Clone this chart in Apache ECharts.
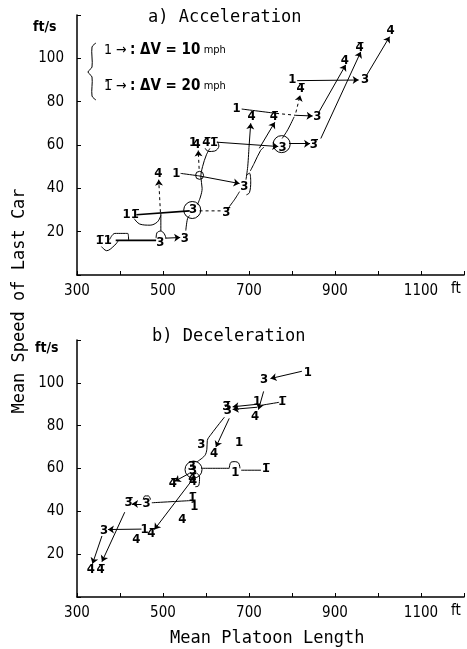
<!DOCTYPE html>
<html>
<head>
<meta charset="utf-8">
<script src="https://cdn.jsdelivr.net/npm/echarts@6/dist/echarts.min.js"></script>
<style>
  html, body { margin: 0; padding: 0; background: #fff; }
  #chart { width: 467px; height: 649px; }
</style>
</head>
<body>
<div id="chart"></div>
<script>
const B = '\u0305' // overbar: 1̅ = ΔV 20 mph

// axes
const xTickLabels = [300, 500, 700, 900, 1100]
const yTickLabels = [20, 40, 60, 80, 100]

// a) Acceleration — [mean platoon length ft, mean speed ft/s, label]
const accLabels = [
  [362, 16, '1' + B + '1'], [494, 15, '3'], [551, 17, '3'],
  [425, 28, '11' + B], [570, 30, '3'], [647, 29, '3' + B],
  [489, 47, '4'], [531, 47, '1'], [689, 41, '3'],
  [570, 61, '1'], [578, 60, '4'], [601, 61, '4' + B], [618, 61, '1' + B],
  [778, 59, '3'], [851, 60, '3' + B],
  [671, 77, '1'], [706, 73, '4'], [758, 73, '4' + B], [859, 73, '3'],
  [801, 90, '1'], [820, 86, '4' + B], [970, 90, '3'],
  [923, 99, '4'], [957, 105, '4' + B], [1029, 113, '4']
]
const accPaths = [
  [[376, 16.4], [388, 19.2], [418, 19.2], [420, 16.1]],
  [[357, 13.1], [369, 11.2], [388, 13.8], [396, 15.8]],
  [[484, 17], [486, 19.5], [495, 20.3], [503, 19], [507, 17]],
  [[495, 20.3], [495, 28.5]],
  [[553, 20.5], [557, 26], [562, 27.5]],
  [[433, 26], [446, 23.5], [470, 23], [487, 24.5], [495, 27.5]],
  [[654, 31.5], [667, 35], [678, 38.5]],
  [[580, 32.5], [587, 36], [591, 40], [588, 45.3], [592, 50], [601, 55.5], [609, 58.4]],
  [[541, 46.9], [582, 45.8]],
  [[694, 37], [701, 38], [704, 43], [701, 47], [694, 46]],
  [[693, 44], [697, 50], [700, 59]],
  [[703, 48], [712, 51.5], [727, 57.5], [735, 59]],
  [[598, 58.5], [606, 57], [620, 57.2], [630, 59.5], [627, 61.5]],
  [[777, 63], [790, 67], [805, 73]],
  [[683, 76.6], [763, 74.6]]
]
const accThick = [
  [[390, 16], [484, 16]],
  [[438, 27.8], [562, 29.6]]
]
const accArrows = [
  [[505, 17], [540, 17.3]],
  [[582, 45.8], [678, 42.2]],
  [[700, 59], [704, 70]],
  [[724, 58.5], [760, 70.5]],
  [[625, 61.3], [768, 59.3]],
  [[793, 60.6], [842, 60.6]],
  [[809, 73.7], [848, 73.4]],
  [[812, 89.7], [955, 90]],
  [[862, 75], [925, 97]],
  [[867, 63], [960, 103]],
  [[973, 92], [1027, 110]]
]
const accDashed = [
  [[494, 29], [490, 44]],
  [[584, 49], [582, 57.5]],
  [[809, 75], [819, 83]]
]
const accDashedPaths = [
  [[585, 29.6], [637, 29.6]],
  [[763, 74.6], [809, 73.7]]
]
const accLoops = [[568, 30], [776, 60.4]]
const accNodes = [[585, 46]]

// b) Deceleration
const decLabels = [
  [837, 105, '1'], [735, 101.6, '3'], [777, 91, '1' + B], [719, 91, '1'],
  [714, 84, '4'], [647, 89, '3' + B], [651, 87, '3'],
  [589, 71, '3'], [619, 67, '4'], [677, 72, '1'],
  [567, 61, '3' + B], [570, 59, '3'], [568, 55.5, '4' + B], [570, 54, '4'],
  [668, 58, '1'], [739, 60, '1' + B], [523, 53, '4' + B],
  [420, 44, '3' + B], [462, 43.5, '3'], [568, 46.5, '1' + B], [573, 42, '1'],
  [545, 36, '4'], [363, 31, '3'], [457, 31.5, '1'], [473, 29.5, '4' + B],
  [438, 27, '4'], [332, 13, '4'], [355, 13, '4' + B]
]
const decPaths = [
  [[770, 90.9], [728, 89.5]],
  [[643, 84], [612, 76], [603, 73], [602, 69], [597, 66], [578, 63]],
  [[589, 60.1], [654, 60.1]],
  [[654, 60.1], [658, 62.9], [668, 63.2], [676, 62.5], [679, 60.1]],
  [[682, 59.2], [728, 59.2]],
  [[474, 44], [563, 45]],
  [[454, 45.5], [458, 47.2], [466, 47.2], [471, 45.5]],
  [[578, 58], [585, 56], [583, 52], [575, 51.5]]
]
const decArrows = [
  [[823, 105.4], [750, 102]],
  [[734, 96], [722, 87.5]],
  [[719, 90], [662, 88.8]],
  [[719, 88.6], [662, 87.6]],
  [[654, 83.4], [623, 70]],
  [[562, 57.8], [527, 54]],
  [[573, 56], [480, 31.5]],
  [[450, 43.4], [428, 43.5]],
  [[411, 39.6], [358, 16.5]],
  [[358, 28.5], [336, 15.5]],
  [[450, 31.7], [372, 31.5]]
]
const decLoops = [[571, 59.5]]

const INK = '#000'
const chart = echarts.init(document.getElementById('chart'))

function axes(gi) {
  return {
    x: {
      type: 'value', gridIndex: gi, min: 300, max: 1200, interval: 100,
      axisLine: { lineStyle: { color: INK, width: 1.5 } },
      axisTick: { inside: true, length: 4, lineStyle: { color: INK } },
      splitLine: { show: false },
      axisLabel: {
        color: INK, fontSize: 15, margin: 9, fontFamily: 'DejaVu Sans Condensed',
        formatter: v => xTickLabels.includes(v) ? String(v) : ''
      }
    },
    y: {
      type: 'value', gridIndex: gi, min: 0, max: 120, interval: 20,
      axisLine: { show: true, lineStyle: { color: INK, width: 1.5 } },
      axisTick: { show: true, inside: true, length: 4, lineStyle: { color: INK } },
      splitLine: { show: false },
      axisLabel: {
        color: INK, fontSize: 15, margin: 13, fontFamily: 'DejaVu Sans Condensed',
        formatter: v => yTickLabels.includes(v) ? String(v) : ''
      }
    }
  }
}

function panelSeries(gi, labels, paths, thick, arrows, dashed, dashedPaths, loops, nodes) {
  const s = []
  paths.forEach(p => s.push({
    type: 'line', xAxisIndex: gi, yAxisIndex: gi, data: p, symbol: 'none',
    smooth: 0.35, silent: true, lineStyle: { color: INK, width: 1 }
  }))
  thick.forEach(p => s.push({
    type: 'line', xAxisIndex: gi, yAxisIndex: gi, data: p, symbol: 'none',
    silent: true, lineStyle: { color: INK, width: 1.6 }
  }))
  dashedPaths.forEach(p => s.push({
    type: 'line', xAxisIndex: gi, yAxisIndex: gi, data: p, symbol: 'none',
    silent: true, lineStyle: { color: INK, width: 1, type: [3, 3] }
  }))
  s.push({
    type: 'lines', coordinateSystem: 'cartesian2d', xAxisIndex: gi, yAxisIndex: gi,
    symbol: ['none', 'arrow'], symbolSize: 6, silent: true,
    lineStyle: { color: INK, width: 1, opacity: 1 },
    data: arrows.map(c => ({ coords: c }))
  })
  s.push({
    type: 'lines', coordinateSystem: 'cartesian2d', xAxisIndex: gi, yAxisIndex: gi,
    symbol: ['none', 'arrow'], symbolSize: 6, silent: true,
    lineStyle: { color: INK, width: 1, opacity: 1, type: [3, 3] },
    data: dashed.map(c => ({ coords: c }))
  })
  s.push({
    type: 'scatter', xAxisIndex: gi, yAxisIndex: gi, symbol: 'circle', symbolSize: 17,
    silent: true, itemStyle: { color: 'rgba(0,0,0,0)', borderColor: INK, borderWidth: 1, opacity: 1 },
    data: loops
  })
  s.push({
    type: 'scatter', xAxisIndex: gi, yAxisIndex: gi, symbol: 'circle', symbolSize: 8,
    silent: true, itemStyle: { color: 'rgba(0,0,0,0)', borderColor: INK, borderWidth: 1, opacity: 1 },
    data: nodes
  })
  s.push({
    type: 'scatter', xAxisIndex: gi, yAxisIndex: gi, symbol: 'circle', symbolSize: 0,
    silent: true, z: 5,
    itemStyle: { color: '#fff', opacity: 1 },
    label: {
      show: true, position: [0, 0], align: 'center', verticalAlign: 'middle',
      formatter: p => p.data[2], opacity: 1, textBorderWidth: 0,
      color: INK, fontSize: 13, fontWeight: 'bold', fontFamily: 'DejaVu Sans Condensed'
    },
    data: labels
  })
  return s
}

const a0 = axes(0), a1 = axes(1)
const mono = 'DejaVu Sans Mono'
const legendRich = {
  a: { font: '14px DejaVu Sans Condensed', fill: INK },
  b: { font: 'bold 15px DejaVu Sans Condensed', fill: INK },
  c: { font: '11px DejaVu Sans Condensed', fill: INK }
}

chart.setOption({
  backgroundColor: '#fff',
  animation: false,
  grid: [
    { left: 77, top: 15, width: 389, height: 260 },
    { left: 77, top: 340, width: 389, height: 257 }
  ],
  xAxis: [a0.x, a1.x],
  yAxis: [a0.y, a1.y],
  series: [
    ...panelSeries(0, accLabels, accPaths, accThick, accArrows, accDashed, accDashedPaths, accLoops, accNodes),
    ...panelSeries(1, decLabels, decPaths, [], decArrows, [], [], decLoops, [])
  ],
  graphic: [
    { type: 'text', left: 148, top: 9, style: { text: 'a) Acceleration', font: '17px ' + mono, fill: INK } },
    { type: 'text', left: 152, top: 328, style: { text: 'b) Deceleration', font: '17px ' + mono, fill: INK } },
    { type: 'text', left: 33, top: 20, style: { text: 'ft/s', font: 'bold 14px DejaVu Sans Condensed', fill: INK } },
    { type: 'text', left: 35, top: 341, style: { text: 'ft/s', font: 'bold 14px DejaVu Sans Condensed', fill: INK } },
    { type: 'text', left: 451, top: 282, style: { text: 'ft', font: '15px DejaVu Sans Condensed', fill: INK } },
    { type: 'text', left: 451, top: 604, style: { text: 'ft', font: '15px DejaVu Sans Condensed', fill: INK } },
    { type: 'text', left: 170, top: 630, style: { text: 'Mean Platoon Length', font: '17px ' + mono, fill: INK } },
    {
      type: 'text', x: 20, y: 301, rotation: Math.PI / 2,
      style: { text: 'Mean Speed of Last Car', font: '17px ' + mono, fill: INK, align: 'center', verticalAlign: 'middle' }
    },
    {
      type: 'polyline', silent: true,
      shape: { points: [[96, 43], [92, 47], [92, 67], [88, 72], [92, 77], [92, 96], [96, 100]], smooth: 0.3 },
      style: { stroke: INK, lineWidth: 1, fill: null }
    },
    {
      type: 'text', left: 104, top: 43,
      style: { text: '{a|1 →} {b|: ΔV = 10} {c|mph}', rich: legendRich }
    },
    {
      type: 'text', left: 104, top: 79,
      style: { text: '{a|1' + B + ' →} {b|: ΔV = 20} {c|mph}', rich: legendRich }
    }
  ]
})
</script>
</body>
</html>
